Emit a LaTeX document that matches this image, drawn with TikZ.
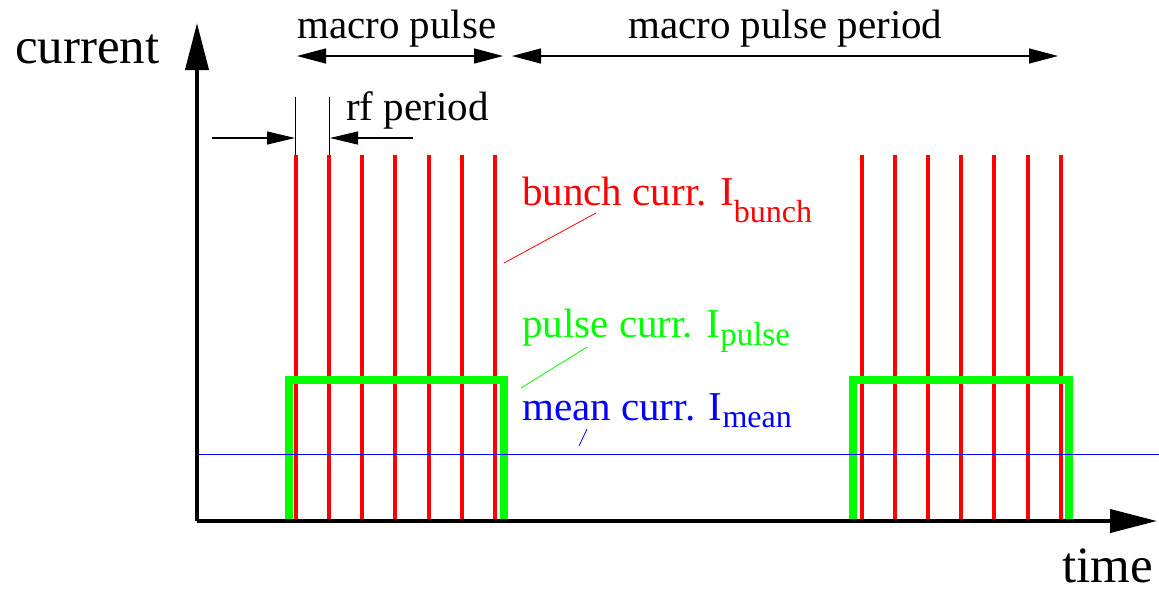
\documentclass[tikz,border=0pt]{standalone}
\usepackage{fontspec}
\setmainfont{Liberation Serif}
\usetikzlibrary{arrows.meta}
\definecolor{bred}{RGB}{255,0,0}
\definecolor{pgreen}{RGB}{0,255,0}
\definecolor{mblue}{RGB}{0,0,255}
\begin{document}
\begin{tikzpicture}[x=1pt,y=-1pt,
  lbl/.style={inner sep=0pt, anchor=base west, font=\fontsize{41}{41}\selectfont},
  axlbl/.style={inner sep=0pt, anchor=base west, font=\fontsize{51}{51}\selectfont},
  axisline/.style={line width=4pt, -{Triangle[length=47pt,width=23pt]}},
  dimline/.style={line width=1.3pt},
  dimboth/.style={{Triangle[length=29pt,width=15pt]}-{Triangle[length=29pt,width=15pt]}},
  dimend/.style={-{Triangle[length=28pt,width=13pt]}},
  tickline/.style={line width=1pt},
  bunchline/.style={bred, line width=4pt},
  pulseline/.style={pgreen, line width=8pt, line join=miter},
  meanline/.style={mblue, line width=1.5pt},
  leader/.style={line width=0.8pt}]
\useasboundingbox (0,0) rectangle (1159,590);

% axes
\coordinate (O) at (197,521);
\coordinate (ytip) at (197,23);
\coordinate (xtip) at (1157,521);

% bunches
\foreach \i in {0,...,6} {
  \coordinate (a\i) at ({295.7+33.2*\i},155);
  \coordinate (a\i b) at ({295.7+33.2*\i},521);
  \draw[bunchline] (a\i) -- (a\i b);
  \coordinate (c\i) at ({861.5+33.2*\i},155);
  \coordinate (c\i b) at ({861.5+33.2*\i},521);
  \draw[bunchline] (c\i) -- (c\i b);
}

% pulses
\coordinate (p1a) at (289,521); \coordinate (p1b) at (289,380);
\coordinate (p1c) at (504,380); \coordinate (p1d) at (504,521);
\draw[pulseline] (p1a) -- (p1b) -- (p1c) -- (p1d);
\coordinate (p2a) at (852.5,521); \coordinate (p2b) at (852.5,380);
\coordinate (p2c) at (1069,380); \coordinate (p2d) at (1069,521);
\draw[pulseline] (p2a) -- (p2b) -- (p2c) -- (p2d);

% mean
\coordinate (m1) at (197,454.3);
\coordinate (m2) at (1159,454.3);
\draw[meanline] (m1) -- (m2);

\draw[axisline] (O) -- (ytip);
\draw[axisline] (O) -- (xtip);

% labels
\node[axlbl] (cur) at (15,63) {current};
\node[axlbl] (time) at (1062,582) {time};

\node[lbl] (mp) at (297,38) {macro pulse};
\node[lbl] (mpp) at (628,38) {macro pulse period};
\node[lbl] (rf) at (346,120) {rf period};

\coordinate (mpL) at (297,56); \coordinate (mpR) at (503,56);
\draw[dimline, dimboth] (mpL) -- (mpR);
\coordinate (mppL) at (512,56); \coordinate (mppR) at (1058,56);
\draw[dimline, dimboth] (mppL) -- (mppR);

% rf period
\coordinate (t1a) at (295.5,97); \coordinate (t1b) at (295.5,155);
\coordinate (t2a) at (329.5,97); \coordinate (t2b) at (329.5,155);
\draw[tickline] (t1a) -- (t1b);
\draw[tickline] (t2a) -- (t2b);
\coordinate (r1s) at (212,138); \coordinate (r1e) at (295,138);
\coordinate (r2s) at (413,138); \coordinate (r2e) at (330,138);
\draw[dimline, dimend] (r1s) -- (r1e);
\draw[dimline, dimend] (r2s) -- (r2e);

% current labels
\node[lbl, text=bred] (bl) at (522,205) {bunch curr. I\raisebox{-17pt}{\fontsize{32}{32}\selectfont bunch}};
\node[lbl, text=pgreen] (pl) at (522,337) {pulse curr. I\raisebox{-8pt}{\fontsize{33}{33}\selectfont pulse}};
\node[lbl, text=mblue] (ml) at (522,420) {mean curr. I\raisebox{-7pt}{\fontsize{32}{32}\selectfont mean}};

\coordinate (bl1) at (504,263); \coordinate (bl2) at (596,213);
\draw[leader, bred] (bl1) -- (bl2);
\coordinate (pl1) at (521,388); \coordinate (pl2) at (587,347);
\draw[leader, pgreen] (pl1) -- (pl2);
\coordinate (ml1) at (579,446); \coordinate (ml2) at (587,429);
\draw[leader, mblue] (ml1) -- (ml2);
\end{tikzpicture}
\end{document}
